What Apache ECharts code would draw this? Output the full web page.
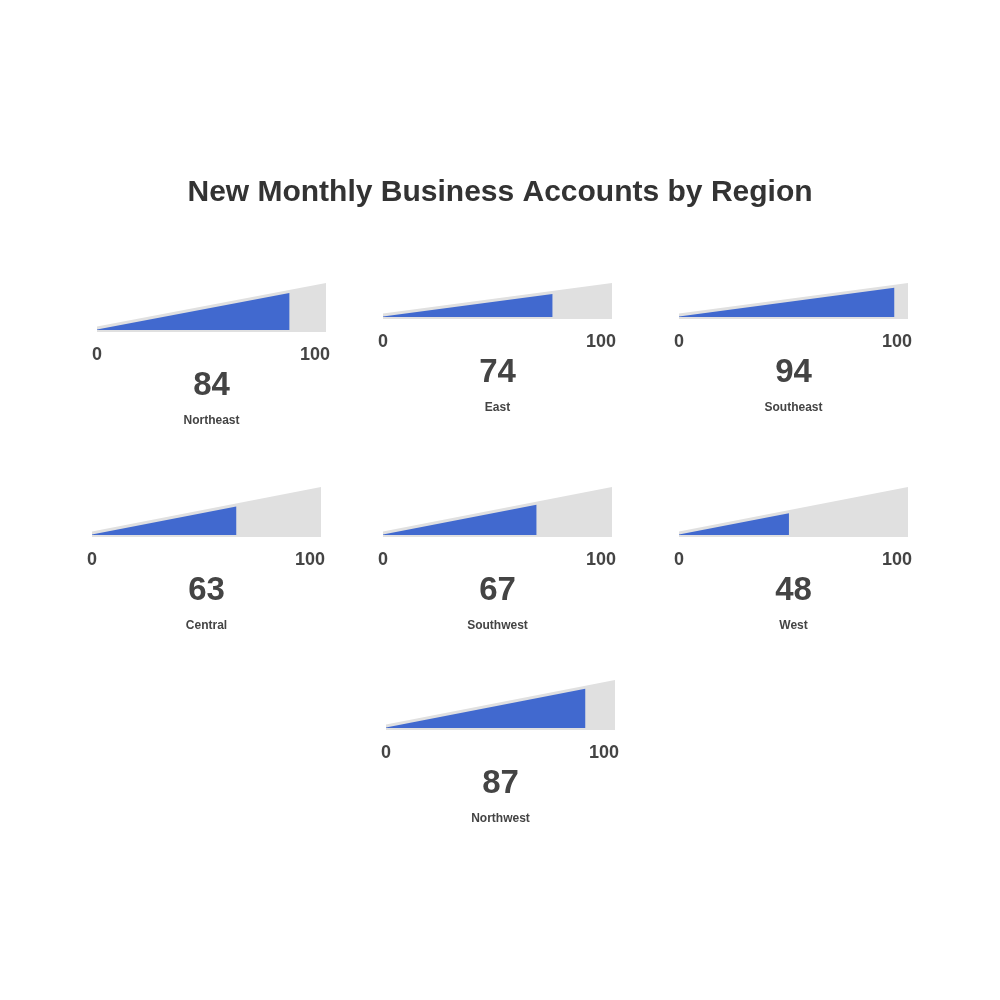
<!DOCTYPE html>
<html>
<head>
<meta charset="utf-8">
<script src="https://cdn.jsdelivr.net/npm/echarts@6/dist/echarts.min.js"></script>
<style>html,body{margin:0;padding:0;background:#fff;}#chart{width:1000px;height:1000px;}</style>
</head>
<body>
<div id="chart"></div>
<script>
// ---- data ----
const regions = ['Northeast', 'East', 'Southeast', 'Central', 'Southwest', 'West', 'Northwest'];
const values = [84, 74, 94, 63, 67, 48, 87];
const gaugeMin = 0;
const gaugeMax = 100;
const tickLabels = ['0', '100'];
const titleText = 'New Monthly Business Accounts by Region';

// ---- layout (pixels) ----
const layout = [
  { left: 97,  top: 283, width: 229, height: 49 },
  { left: 383, top: 283, width: 229, height: 36 },
  { left: 679, top: 283, width: 229, height: 36 },
  { left: 92,  top: 487, width: 229, height: 50 },
  { left: 383, top: 487, width: 229, height: 50 },
  { left: 679, top: 487, width: 229, height: 50 },
  { left: 386, top: 680, width: 229, height: 50 }
];

const FONT = '"Liberation Sans", Arial, Helvetica, sans-serif';
const BLUE = '#4169CF';
const GREY = '#E0E0E0';
const TEXT = '#444444';

const grids = [], xAxes = [], yAxes = [], series = [];
regions.forEach((name, i) => {
  const L = layout[i];
  grids.push({ left: L.left, top: L.top, width: L.width, height: L.height, containLabel: false });
  xAxes.push({
    gridIndex: i, type: 'value', min: gaugeMin, max: gaugeMax, interval: gaugeMax - gaugeMin,
    axisLine: { show: false }, axisTick: { show: false }, splitLine: { show: false },
    axisLabel: {
      show: true, margin: 14, fontSize: 18, fontWeight: 'bold', color: TEXT, fontFamily: FONT,
      alignMinLabel: 'center', alignMaxLabel: 'right',
      formatter: v => v === gaugeMin ? tickLabels[0] : (v === gaugeMax ? '{r|' + tickLabels[1] + '}' : ''),
      rich: { r: { fontSize: 18, fontWeight: 'bold', color: TEXT, fontFamily: FONT, padding: [0, -4, 0, 0] } }
    }
  });
  yAxes.push({ gridIndex: i, type: 'value', min: 0, max: 1, show: false });
  series.push({
    type: 'custom', xAxisIndex: i, yAxisIndex: i,
    data: [[values[i], 0]],
    renderItem: function (params, api) {
      const v = api.value(0);
      const p0 = api.coord([gaugeMin, 0]);
      const p1 = api.coord([gaugeMax, 1]);
      const pv = api.coord([v, 0]);
      const bottom = p0[1], top = p1[1];
      const xl = p0[0], xr = p1[0];
      const tipTop = bottom - 5.5;
      const greyTop = x => tipTop + (top - tipTop) * (x - xl) / (xr - xl);
      const bb = bottom - 2;
      const cx = (xl + xr) / 2;
      return {
        type: 'group',
        children: [
          { type: 'polygon', shape: { points: [[xl, bottom], [xr, bottom], [xr, top], [xl, tipTop]] }, style: { fill: GREY } },
          { type: 'polygon', shape: { points: [[xl, bb], [pv[0], bb], [pv[0], greyTop(pv[0]) + 3], [xl, bb - 0.5]] }, style: { fill: BLUE } },
          { type: 'text', style: { text: String(v), x: cx, y: bottom + 54, align: 'center', verticalAlign: 'middle', fontSize: 33, fontWeight: 'bold', fill: TEXT, fontFamily: FONT } },
          { type: 'text', style: { text: regions[i], x: cx, y: bottom + 89, align: 'center', verticalAlign: 'middle', fontSize: 12, fontWeight: 'bold', fill: TEXT, fontFamily: FONT } }
        ]
      };
    }
  });
});

const chart = echarts.init(document.getElementById('chart'), null, { renderer: 'canvas' });
chart.setOption({
  backgroundColor: '#ffffff',
  animation: false,
  title: {
    text: titleText, left: 'center', top: 178, padding: 0,
    textStyle: { fontSize: 30, fontWeight: 'bold', color: '#333333', fontFamily: FONT }
  },
  grid: grids, xAxis: xAxes, yAxis: yAxes, series: series
});
</script>
</body>
</html>
